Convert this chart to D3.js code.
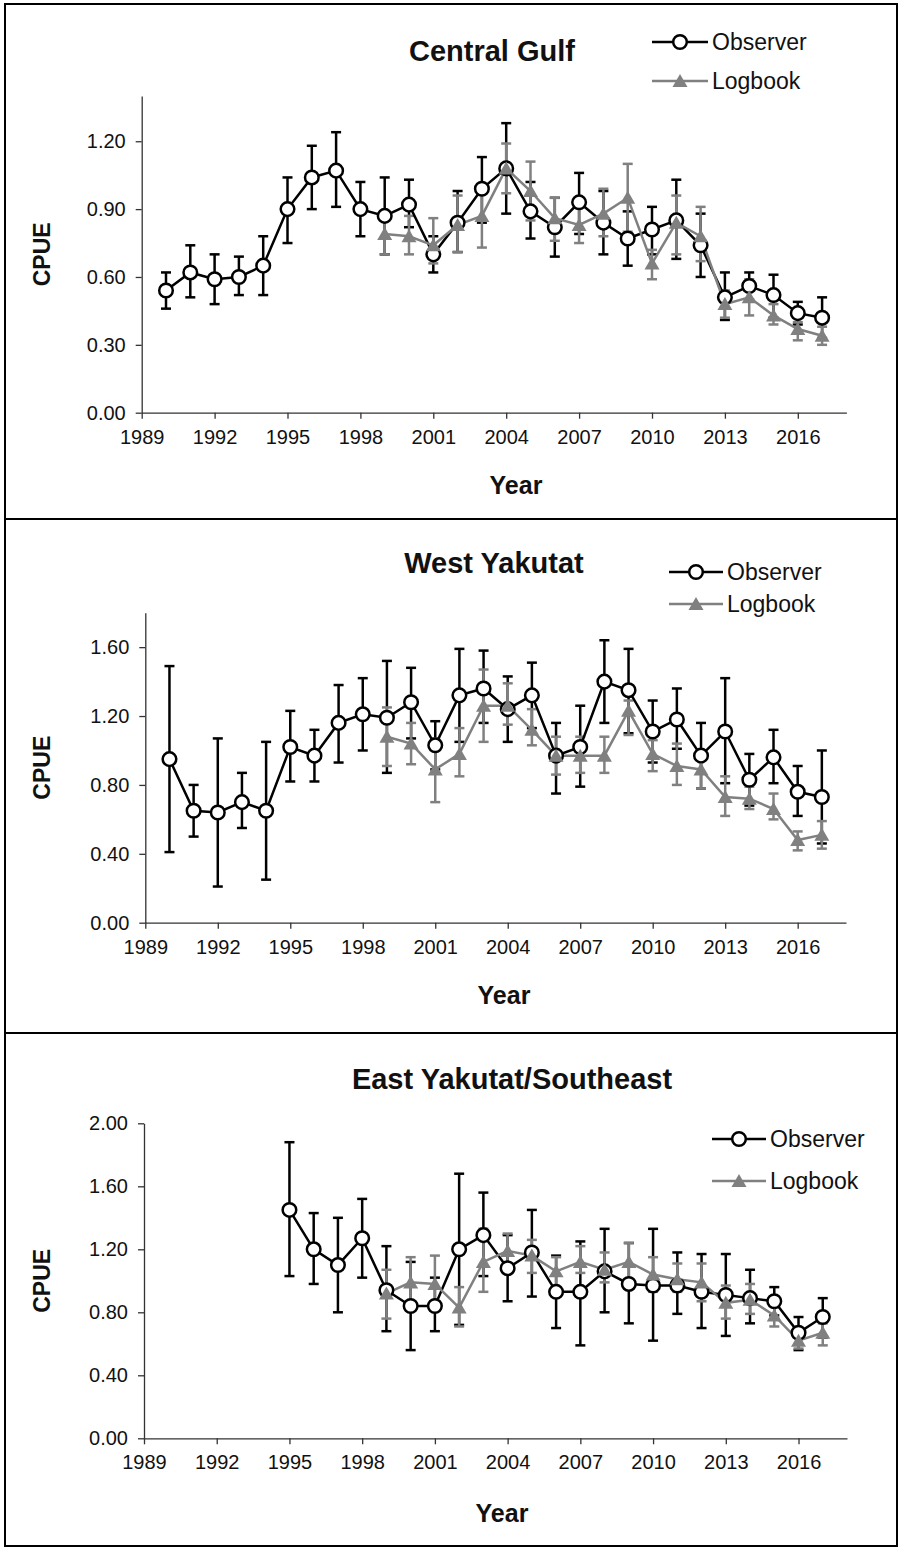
<!DOCTYPE html>
<html>
<head>
<meta charset="utf-8">
<script src="https://cdn.jsdelivr.net/npm/d3@7"></script>
<style>
body { margin: 0; background: #fff; }
text { font-family: "Liberation Sans", Arial, sans-serif; fill: #111; }
</style>
</head>
<body>
<svg id="chart" width="900" height="1547"></svg>
<script>
// ---- data ----
var xTicks = [1989, 1992, 1995, 1998, 2001, 2004, 2007, 2010, 2013, 2016];
var logYears = [1999, 2000, 2001, 2002, 2003, 2004, 2005, 2006, 2007, 2008, 2009, 2010, 2011, 2012, 2013, 2014, 2015, 2016, 2017];

// Central Gulf
var gulfObsYears = [1990, 1991, 1992, 1993, 1994, 1995, 1996, 1997, 1998, 1999, 2000, 2001, 2002, 2003, 2004, 2005, 2006, 2007, 2008, 2009, 2010, 2011, 2012, 2013, 2014, 2015, 2016, 2017];
var gulfObs   = [0.54, 0.62, 0.59, 0.60, 0.65, 0.90, 1.04, 1.07, 0.90, 0.87, 0.92, 0.70, 0.84, 0.99, 1.08, 0.89, 0.82, 0.93, 0.84, 0.77, 0.81, 0.85, 0.74, 0.51, 0.56, 0.52, 0.44, 0.42];
var gulfObsHi = [0.62, 0.74, 0.70, 0.69, 0.78, 1.04, 1.18, 1.24, 1.02, 1.04, 1.03, 0.78, 0.98, 1.13, 1.28, 1.02, 0.95, 1.06, 0.98, 0.89, 0.91, 1.03, 0.88, 0.62, 0.62, 0.61, 0.49, 0.51];
var gulfObsLo = [0.46, 0.51, 0.48, 0.52, 0.52, 0.75, 0.90, 0.91, 0.78, 0.70, 0.82, 0.62, 0.71, 0.84, 0.88, 0.77, 0.69, 0.79, 0.70, 0.65, 0.70, 0.68, 0.60, 0.41, 0.50, 0.42, 0.39, 0.33];
var gulfLog   = [0.79, 0.78, 0.74, 0.83, 0.87, 1.08, 0.98, 0.86, 0.83, 0.88, 0.95, 0.66, 0.84, 0.78, 0.48, 0.51, 0.43, 0.37, 0.34];
var gulfLogHi = [0.87, 0.87, 0.86, 0.96, 1.00, 1.19, 1.11, 0.95, 0.91, 0.99, 1.10, 0.72, 0.96, 0.91, 0.54, 0.59, 0.48, 0.40, 0.38];
var gulfLogLo = [0.70, 0.70, 0.66, 0.71, 0.73, 0.97, 0.85, 0.76, 0.75, 0.78, 0.80, 0.59, 0.70, 0.67, 0.42, 0.43, 0.39, 0.32, 0.30];
var gulfYTicks = [0, 0.3, 0.6, 0.9, 1.2];

// West Yakutat
var wyObsYears = gulfObsYears;
var wyObs   = [0.95, 0.65, 0.64, 0.70, 0.65, 1.02, 0.97, 1.16, 1.21, 1.19, 1.28, 1.03, 1.32, 1.36, 1.24, 1.32, 0.97, 1.02, 1.40, 1.35, 1.11, 1.18, 0.97, 1.11, 0.83, 0.96, 0.76, 0.73];
var wyObsHi = [1.49, 0.80, 1.07, 0.87, 1.05, 1.23, 1.12, 1.38, 1.42, 1.52, 1.48, 1.17, 1.59, 1.58, 1.43, 1.51, 1.16, 1.26, 1.64, 1.59, 1.29, 1.36, 1.16, 1.42, 0.98, 1.12, 0.91, 1.00];
var wyObsLo = [0.41, 0.50, 0.21, 0.55, 0.25, 0.82, 0.82, 0.93, 1.00, 0.87, 1.07, 0.89, 1.05, 1.16, 1.05, 1.13, 0.75, 0.79, 1.16, 1.10, 0.93, 1.01, 0.78, 0.81, 0.68, 0.81, 0.62, 0.46];
var wyLog   = [1.08, 1.04, 0.89, 0.98, 1.26, 1.26, 1.12, 0.97, 0.97, 0.97, 1.23, 0.98, 0.91, 0.89, 0.73, 0.72, 0.66, 0.48, 0.51];
var wyLogHi = [1.25, 1.16, 1.07, 1.13, 1.47, 1.39, 1.24, 1.08, 1.08, 1.08, 1.29, 1.06, 1.04, 1.00, 0.85, 0.79, 0.75, 0.53, 0.59];
var wyLogLo = [0.91, 0.92, 0.70, 0.85, 1.05, 1.15, 1.03, 0.86, 0.87, 0.87, 1.09, 0.88, 0.80, 0.78, 0.62, 0.66, 0.60, 0.42, 0.43];
var wyYTicks = [0, 0.4, 0.8, 1.2, 1.6];

// East Yakutat/Southeast
var eyObsYears = [1995, 1996, 1997, 1998, 1999, 2000, 2001, 2002, 2003, 2004, 2005, 2006, 2007, 2008, 2009, 2010, 2011, 2012, 2013, 2014, 2015, 2016, 2017];
var eyObs   = [1.45, 1.20, 1.10, 1.27, 0.94, 0.84, 0.84, 1.20, 1.29, 1.08, 1.18, 0.93, 0.93, 1.06, 0.98, 0.97, 0.97, 0.93, 0.91, 0.89, 0.87, 0.67, 0.77];
var eyObsHi = [1.88, 1.43, 1.40, 1.52, 1.22, 1.12, 1.02, 1.68, 1.56, 1.29, 1.45, 1.16, 1.25, 1.33, 1.24, 1.33, 1.18, 1.17, 1.17, 1.07, 0.96, 0.77, 0.89];
var eyObsLo = [1.03, 0.98, 0.80, 1.02, 0.68, 0.56, 0.68, 0.72, 1.03, 0.87, 0.90, 0.70, 0.59, 0.80, 0.73, 0.62, 0.79, 0.70, 0.65, 0.73, 0.78, 0.56, 0.64];
var eyLog   = [0.92, 0.99, 0.98, 0.83, 1.12, 1.19, 1.16, 1.06, 1.12, 1.07, 1.12, 1.04, 1.01, 0.99, 0.86, 0.88, 0.78, 0.62, 0.67];
var eyLogHi = [1.07, 1.15, 1.16, 0.96, 1.33, 1.30, 1.26, 1.15, 1.22, 1.18, 1.24, 1.15, 1.11, 1.11, 0.97, 0.98, 0.84, 0.68, 0.73];
var eyLogLo = [0.76, 0.83, 0.82, 0.71, 0.93, 1.07, 1.05, 0.96, 1.05, 0.99, 0.97, 0.93, 0.93, 0.87, 0.76, 0.79, 0.71, 0.57, 0.59];
var eyYTicks = [0, 0.4, 0.8, 1.2, 1.6, 2.0];

// ---- layout ----
var obsColor = "#000";
var logColor = "#808080";

var svg = d3.select("#chart");

// panel frames
svg.append("rect").attr("x", 5).attr("y", 4).attr("width", 892).attr("height", 1542)
    .attr("fill", "none").attr("stroke", "#000").attr("stroke-width", 2);
[519, 1033].forEach(function(y) {
    svg.append("line").attr("x1", 5).attr("x2", 897).attr("y1", y).attr("y2", y)
        .attr("stroke", "#000").attr("stroke-width", 2);
});

function pack(years, v, hi, lo) {
    return years.map(function(y, i) { return {year: y, v: v[i], hi: hi[i], lo: lo[i]}; });
}

var panels = [
    {title: "Central Gulf", titleX: 492, titleY: 61,
     left: 141.7, right: 846.4, bottom: 412.7, top: 96, yMax: 1.4, yTicks: gulfYTicks,
     legX: 652, legY: 42, legText: 712, legGap: 39, yearX: 516, yearY: 494,
     obs: pack(gulfObsYears, gulfObs, gulfObsHi, gulfObsLo),
     log: pack(logYears, gulfLog, gulfLogHi, gulfLogLo)},
    {title: "West Yakutat", titleX: 494, titleY: 573,
     left: 145.3, right: 846, bottom: 922.7, top: 612.7, yMax: 1.8, yTicks: wyYTicks,
     legX: 669, legY: 572, legText: 727, legGap: 32, yearX: 504, yearY: 1004,
     obs: pack(wyObsYears, wyObs, wyObsHi, wyObsLo),
     log: pack(logYears, wyLog, wyLogHi, wyLogLo)},
    {title: "East Yakutat/Southeast", titleX: 512, titleY: 1089,
     left: 144, right: 847, bottom: 1438.3, top: 1123.3, yMax: 2.0, yTicks: eyYTicks,
     legX: 712, legY: 1139, legText: 770, legGap: 42, yearX: 502, yearY: 1522,
     obs: pack(eyObsYears, eyObs, eyObsHi, eyObsLo),
     log: pack(logYears, eyLog, eyLogHi, eyLogLo)}
];

var triPath = "M0,-7L7.5,6L-7.5,6Z";
var circR = 6.8;

panels.forEach(function(p) {
    var x = d3.scaleLinear().domain([1989, 2018]).range([p.left, p.right]);
    var y = d3.scaleLinear().domain([0, p.yMax]).range([p.bottom, p.top]);
    var g = svg.append("g");

    // axes
    var xAxis = d3.axisBottom(x).tickValues(xTicks).tickFormat(d3.format("d"))
        .tickSize(6).tickSizeOuter(0).tickPadding(11);
    var yAxis = d3.axisLeft(y).tickValues(p.yTicks).tickFormat(d3.format(".2f"))
        .tickSize(6).tickSizeOuter(0).tickPadding(10);

    g.append("g").attr("transform", "translate(0," + p.bottom + ")").call(xAxis)
        .call(function(a) { a.select(".domain").attr("stroke", "#333").attr("stroke-width", 1.3); });
    g.append("g").attr("transform", "translate(" + p.left + ",0)").call(yAxis)
        .call(function(a) { a.select(".domain").attr("stroke", "#333").attr("stroke-width", 1.3); });
    g.selectAll(".tick line").attr("stroke", "#333").attr("stroke-width", 1.3);
    g.selectAll(".tick text").attr("font-size", 20).attr("fill", "#111")
        .attr("font-family", "'Liberation Sans', Arial, sans-serif");

    // titles
    g.append("text").attr("x", p.titleX).attr("y", p.titleY).attr("text-anchor", "middle")
        .attr("font-size", 29).attr("font-weight", "bold").text(p.title);
    g.append("text").attr("x", p.yearX).attr("y", p.yearY).attr("text-anchor", "middle")
        .attr("font-size", 25).attr("font-weight", "bold").text("Year");
    g.append("text").attr("transform", "translate(50," + ((p.top + p.bottom) / 2) + ") rotate(-90)")
        .attr("text-anchor", "middle").attr("font-size", 23).attr("font-weight", "bold").text("CPUE");

    // error bars
    function bars(data, color) {
        var eb = g.append("g").attr("stroke", color).attr("stroke-width", 2.5).attr("fill", "none");
        data.forEach(function(d) {
            var cx = x(d.year);
            eb.append("line").attr("x1", cx).attr("x2", cx).attr("y1", y(d.hi)).attr("y2", y(d.lo));
            eb.append("line").attr("x1", cx - 5).attr("x2", cx + 5).attr("y1", y(d.hi)).attr("y2", y(d.hi));
            eb.append("line").attr("x1", cx - 5).attr("x2", cx + 5).attr("y1", y(d.lo)).attr("y2", y(d.lo));
        });
    }
    bars(p.obs, obsColor);
    bars(p.log, logColor);

    var line = d3.line().x(function(d) { return x(d.year); }).y(function(d) { return y(d.v); });

    g.append("path").datum(p.obs).attr("d", line)
        .attr("fill", "none").attr("stroke", obsColor).attr("stroke-width", 2.5);
    g.append("path").datum(p.log).attr("d", line)
        .attr("fill", "none").attr("stroke", logColor).attr("stroke-width", 2.5);

    g.selectAll(".obs").data(p.obs).enter().append("circle")
        .attr("cx", function(d) { return x(d.year); })
        .attr("cy", function(d) { return y(d.v); })
        .attr("r", circR).attr("fill", "#fff").attr("stroke", obsColor).attr("stroke-width", 2.5);

    g.selectAll(".log").data(p.log).enter().append("path")
        .attr("d", triPath)
        .attr("transform", function(d) { return "translate(" + x(d.year) + "," + y(d.v) + ")"; })
        .attr("fill", logColor);

    // legend
    var lg = g.append("g");
    var midX = p.legX + (p.legText - 4 - p.legX) / 2;
    lg.append("line").attr("x1", p.legX).attr("x2", p.legText - 4).attr("y1", p.legY).attr("y2", p.legY)
        .attr("stroke", obsColor).attr("stroke-width", 2.5);
    lg.append("circle").attr("cx", midX).attr("cy", p.legY).attr("r", circR)
        .attr("fill", "#fff").attr("stroke", obsColor).attr("stroke-width", 2.5);
    lg.append("text").attr("x", p.legText).attr("y", p.legY).attr("dy", "0.35em")
        .attr("font-size", 23).text("Observer");
    var ly = p.legY + p.legGap;
    lg.append("line").attr("x1", p.legX).attr("x2", p.legText - 4).attr("y1", ly).attr("y2", ly)
        .attr("stroke", logColor).attr("stroke-width", 2.5);
    lg.append("path").attr("d", triPath).attr("transform", "translate(" + midX + "," + ly + ")")
        .attr("fill", logColor);
    lg.append("text").attr("x", p.legText).attr("y", ly).attr("dy", "0.35em")
        .attr("font-size", 23).text("Logbook");
});
</script>
</body>
</html>
